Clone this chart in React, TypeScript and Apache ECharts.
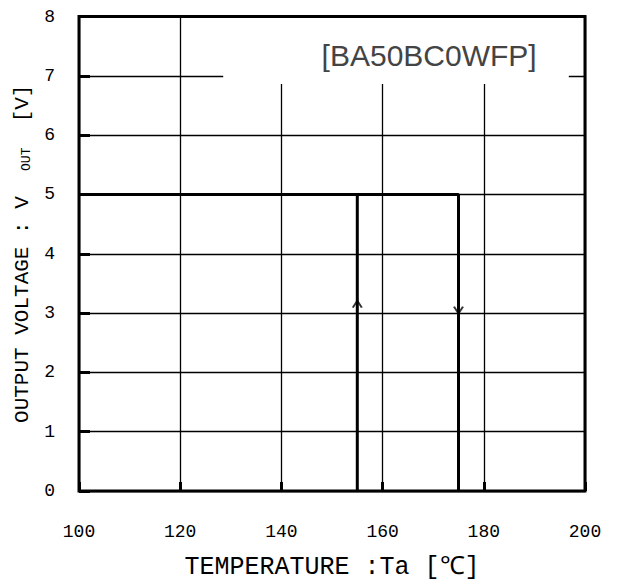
import { useEffect, useRef } from "react";
import * as echarts from "echarts";

// ---- data ----
const xTickValues = [100, 120, 140, 160, 180, 200];
const yTickValues = [0, 1, 2, 3, 4, 5, 6, 7, 8];
// output voltage while temperature rises (shuts down at 175 °C)
const risingCurve = [
  [100, 5],
  [175, 5],
  [175, 0],
];
// output voltage returning while temperature falls (recovers at 155 °C)
const fallingCurve = [
  [155, 0],
  [155, 5],
];
const upArrowPoint = [[155, 3.15]];
const downArrowPoint = [[175, 3.05]];
const modelLabel = "[BA50BC0WFP]";
const xTitle = "TEMPERATURE :Ta [℃]";

const MONO = "'Liberation Mono', 'DejaVu Sans Mono', monospace";

export default function App() {
  const ref = useRef<HTMLDivElement>(null);

  useEffect(() => {
    const chart = echarts.init(ref.current!, null, { renderer: "svg" });
    chart.setOption({
      animation: false,
      backgroundColor: "#fff",
      grid: { left: 79, right: 33, top: 16.5, bottom: 92, containLabel: false },
      xAxis: {
        type: "value",
        min: xTickValues[0],
        max: xTickValues[xTickValues.length - 1],
        interval: 20,
        axisLine: { show: false },
        axisTick: { show: true, inside: true, length: 9, lineStyle: { color: "#000", width: 3 } },
        axisLabel: {
          margin: 32,
          color: "#000",
          fontFamily: MONO,
          fontSize: 18,
        },
        splitLine: { show: true, lineStyle: { color: "#000", width: 1.3 } },
        name: xTitle,
        nameLocation: "middle",
        nameGap: 64,
        nameTextStyle: { color: "#000", fontFamily: MONO, fontSize: 25 },
      },
      yAxis: {
        type: "value",
        min: yTickValues[0],
        max: yTickValues[yTickValues.length - 1],
        interval: 1,
        axisLine: { show: false },
        axisTick: { show: true, inside: true, length: 11, lineStyle: { color: "#000", width: 3 } },
        axisLabel: {
          margin: 24,
          color: "#000",
          fontFamily: MONO,
          fontSize: 18,
        },
        splitLine: { show: true, lineStyle: { color: "#000", width: 1.3 } },
        name: "{a|OUTPUT VOLTAGE : V  }{s|OUT}{a|  [V]}",
        nameLocation: "middle",
        nameGap: 44,
        nameTextStyle: {
          color: "#000",
          fontFamily: MONO,
          fontSize: 21,
          rich: {
            a: { fontFamily: MONO, fontSize: 21, color: "#000" },
            s: { fontFamily: MONO, fontSize: 13, color: "#000", verticalAlign: "bottom" },
          },
        },
      },
      series: [
        {
          type: "line",
          data: risingCurve,
          symbol: "none",
          lineStyle: { color: "#000", width: 3 },
          z: 5,
        },
        {
          type: "line",
          data: fallingCurve,
          symbol: "none",
          lineStyle: { color: "#000", width: 3 },
          z: 5,
        },
        {
          type: "scatter",
          data: upArrowPoint,
          symbol: "path://M0,7L4.5,0L9,7",
          symbolSize: [9, 7],
          itemStyle: { color: "none", borderColor: "#000", borderWidth: 1.8 },
          z: 6,
        },
        {
          type: "scatter",
          data: downArrowPoint,
          symbol: "path://M0,0L4.5,7L9,0",
          symbolSize: [9, 7],
          itemStyle: { color: "none", borderColor: "#000", borderWidth: 1.8 },
          z: 6,
        },
      ],
    });

    const p = (x: number, y: number) => chart.convertToPixel({ gridIndex: 0 }, [x, y]) as number[];
    const tl = p(100, 8);
    const br = p(200, 0);
    const m1 = p(128.5, 8);
    const m2 = p(196.8, 6.86);
    const lbl = p(169.2, 7.35);

    chart.setOption({
      graphic: [
        {
          type: "rect",
          z: 1,
          silent: true,
          shape: { x: m1[0], y: m1[1] + 1, width: m2[0] - m1[0], height: m2[1] - m1[1] - 1 },
          style: { fill: "#fff" },
        },
        {
          type: "text",
          z: 8,
          silent: true,
          x: lbl[0],
          y: lbl[1],
          style: {
            text: modelLabel,
            fill: "#444",
            font: "normal 30px 'Liberation Sans', Arial, sans-serif",
            align: "center",
            verticalAlign: "middle",
          },
        },
        {
          type: "rect",
          z: 10,
          silent: true,
          shape: { x: tl[0], y: tl[1], width: br[0] - tl[0], height: br[1] - tl[1] },
          style: { fill: "none", stroke: "#000", lineWidth: 3 },
        },
      ],
    });

    return () => chart.dispose();
  }, []);

  return (
    <div
      ref={ref}
      style={{ position: "absolute", left: 0, top: 0, width: 618, height: 585 }}
    />
  );
}
